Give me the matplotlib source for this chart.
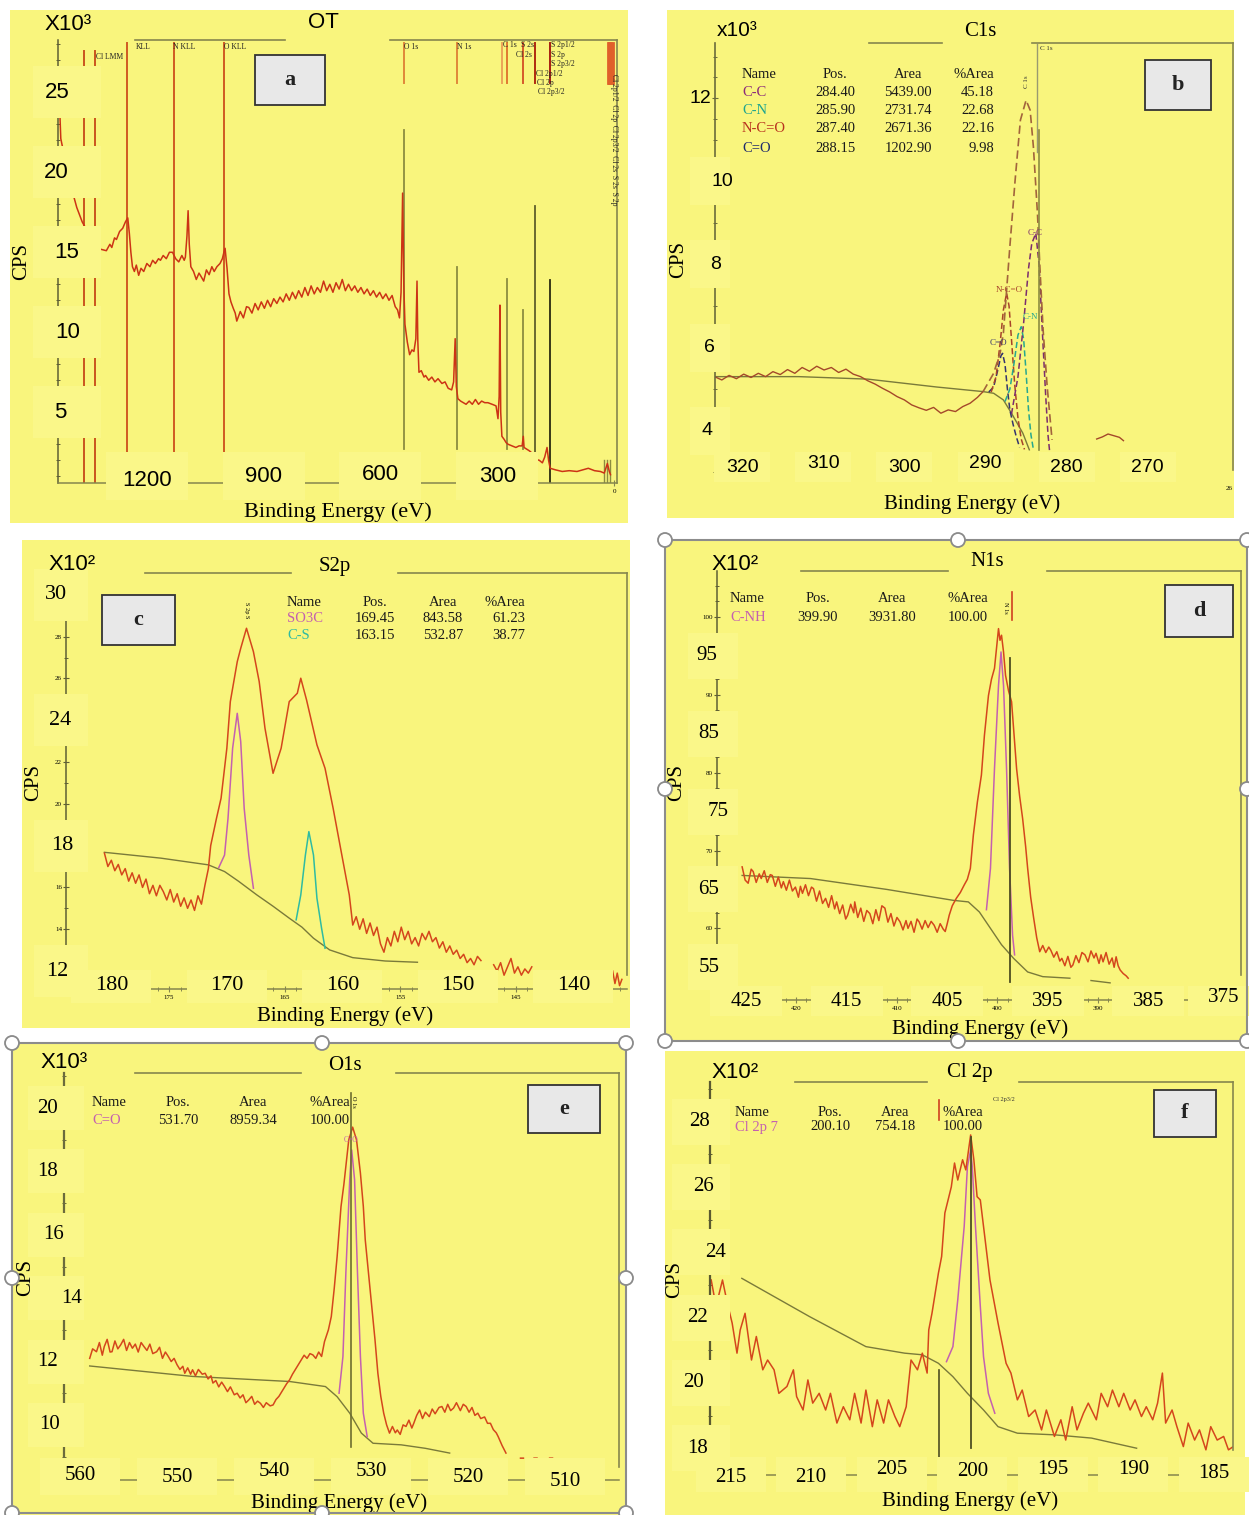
import numpy as np
import matplotlib
matplotlib.use('Agg')
import matplotlib.pyplot as plt
from matplotlib.patches import Rectangle, Ellipse
from matplotlib.lines import Line2D
from matplotlib.ticker import MultipleLocator

plt.rcParams['font.family'] = ['Liberation Serif', 'DejaVu Serif']
SERIF = ['Liberation Serif', 'DejaVu Serif']
SANS = ['Liberation Sans', 'DejaVu Sans']

# ======================= DATA =======================
# (a) survey, binding energy (eV) and counts (x10^3 CPS)
survey_be = [1425, 1423, 1421, 1410, 1400, 1393, 1380, 1366, 1350, 1335,
             1320, 1304, 1295, 1290, 1283, 1278, 1270, 1262, 1255, 1249,
             1245, 1241, 1237, 1232, 1227, 1221, 1215, 1208, 1200, 1192,
             1185, 1178, 1170, 1165, 1158, 1150, 1142, 1134, 1126, 1118,
             1110, 1104, 1101, 1097, 1094, 1091, 1087, 1080, 1073, 1066,
             1061, 1054, 1047, 1040, 1033, 1027, 1020, 1012, 1006, 1002,
             999, 994, 989, 984, 978, 973, 969, 960, 952, 944,
             938, 930, 922, 914, 906, 898, 890, 882, 874, 866,
             858, 850, 842, 834, 826, 818, 810, 802, 794, 786,
             778, 770, 762, 754, 746, 738, 730, 722, 714, 706,
             698, 690, 682, 674, 666, 658, 650, 642, 634, 626,
             618, 610, 602, 594, 586, 578, 570, 562, 556, 551,
             547, 543, 540, 537, 531, 525, 519, 514, 509, 507,
             506, 504, 501, 495, 488, 484, 476, 468, 460, 452,
             442, 434, 426, 417, 412, 408, 405, 401, 394, 387,
             380, 372, 364, 356, 348, 340, 332, 324, 313, 303,
             298, 295, 293, 291, 288, 282, 277, 272, 262, 252,
             244, 236, 233, 231, 218, 208, 200, 192, 184, 178,
             172, 168, 164, 150, 133, 115, 95, 80, 66, 50,
             35, 25, 17, 12, 9]
survey_kcps = [23.9, 23.4, 22.1, 20.8, 19.6, 18.96, 17.8, 16.9, 16.2, 15.6,
               15.2, 15.1, 15.5, 15.3, 15.9, 15.8, 16.3, 16.5, 16.9, 17.15,
               16.2, 15.0, 14.1, 13.8, 14.2, 13.56, 14.0, 13.8, 14.3, 14.1,
               14.5, 14.3, 14.6, 14.5, 14.8, 14.6, 15.0, 15.0, 14.6, 14.4,
               14.8, 14.5, 14.7, 16.0, 17.6, 15.5, 14.1, 13.8, 13.3, 13.7,
               13.5, 13.2, 13.9, 13.6, 14.1, 13.8, 14.1, 14.3, 14.6, 15.0,
               15.25, 14.0, 12.4, 11.9, 11.5, 11.2, 10.7, 11.3, 10.9, 11.6,
               11.55, 11.2, 11.8, 11.4, 11.9, 11.5, 12.0, 11.6, 12.1, 11.8,
               12.2, 11.9, 12.4, 12.0, 12.5, 12.1, 12.6, 12.2, 12.8, 12.3,
               12.9, 12.4, 12.8, 12.5, 13.2, 12.6, 13.0, 12.5, 13.1, 12.7,
               13.3, 12.6, 13.0, 12.6, 12.9, 12.5, 12.8, 12.4, 12.7, 12.3,
               12.6, 12.2, 12.5, 12.1, 12.4, 12.0, 12.3, 11.6, 11.4, 10.9,
               12.5, 18.7, 13.0, 10.5, 9.4, 8.6, 8.9, 8.8, 9.6, 12.0,
               13.2, 9.5, 7.5, 7.6, 7.2, 7.3, 7.0, 7.2, 6.9, 7.1,
               6.8, 6.9, 6.5, 6.4, 6.9, 9.6, 6.6, 5.85, 5.7, 5.6,
               5.5, 5.7, 5.5, 5.8, 5.5, 5.7, 5.6, 5.6, 5.5, 5.4,
               4.6, 6.0, 11.7, 5.0, 3.5, 3.3, 3.1, 3.0, 2.9, 2.8,
               2.9, 2.9, 3.5, 2.8, 2.6, 2.4, 2.05, 2.0, 1.84, 2.2,
               2.8, 2.0, 1.5, 1.4, 1.3, 1.35, 1.3, 1.4, 1.5, 1.35,
               1.3, 1.2, 1.8, 1.3, 1.1]
# survey element marker lines (eV, low, high in x10^3 CPS)
lmm_be = [1361, 1333]
auger_be = [1251, 1131, 1002.6]
top_mark_be = [540.4, 404, 288.5, 275.6, 233, 203, 164.4]
top_mark_col = ['#e0883a', '#e0883a', '#eba458', '#e07a30', '#d65a2a', '#b02a10', '#a82010']
right_mark_be = [15.4, 12.5, 9.6, 6.7, 3.8]
core_be = [540.4, 404, 275.6, 233, 203, 164.4]
core_lo = [2.71, 2.71, 2.71, 2.71, 0.77, 0.58]
core_hi = [22.64, 14.08, 13.33, 11.39, 17.89, 13.27]
core_col = ['#8c8c40', '#8c8c40', '#8c8c40', '#8c8c40', '#5e5e2a', '#2a2a10']
base_mark_be = [25, 18, 10]

# (b) C1s
c1s_raw_be = [323.4, 322.5, 321.6, 320.7, 319.8, 318.9, 318.0, 317.1, 316.2, 315.3,
              314.4, 313.5, 312.6, 311.7, 310.8, 309.9, 309.0, 308.1, 307.2, 306.3,
              305.4, 304.5, 303.6, 302.7, 301.8, 300.9, 300.0, 299.1, 298.2, 297.3,
              296.4, 295.5, 294.6, 293.7, 292.8, 291.9, 291.0, 290.3]
c1s_raw = [5.30, 5.22, 5.33, 5.25, 5.36, 5.28, 5.38, 5.30, 5.42, 5.35,
           5.47, 5.38, 5.52, 5.43, 5.55, 5.46, 5.52, 5.40, 5.48, 5.36,
           5.30, 5.20, 5.12, 5.02, 4.93, 4.82, 4.74, 4.62, 4.55, 4.49,
           4.56, 4.42, 4.50, 4.46, 4.58, 4.66, 4.80, 4.94]
c1s_bump_be = [276.3, 275.6, 274.9, 274.2, 273.5, 273.0]
c1s_bump = [3.80, 3.85, 3.92, 3.88, 3.84, 3.76]
c1s_bg_be = [323.4, 313.0, 304.5, 296.0, 290.3, 289.0, 287.8, 286.8, 285.4, 284.6]
c1s_bg = [5.30, 5.30, 5.24, 5.05, 4.94, 4.90, 4.74, 4.42, 3.94, 3.54]
c1s_env_be = [290.3, 289.0, 288.2, 287.8, 287.4, 287.0, 286.35, 285.7, 285.0, 284.5,
              284.1, 283.6, 283.3, 282.9, 282.4, 281.8]
c1s_env = [4.94, 5.38, 5.87, 6.34, 7.38, 8.43, 10.03, 11.47, 11.95, 11.71,
           10.83, 9.23, 7.94, 6.42, 5.06, 3.78]
cc_be = [286.8, 286.0, 285.3, 284.7, 284.3, 283.8, 283.4, 283.0, 282.6, 282.3, 282.1]
cc_cps = [4.4, 5.3, 6.6, 7.9, 8.5, 8.75, 8.0, 6.4, 4.9, 3.9, 3.5]
cn_be = [287.6, 287.0, 286.5, 286.0, 285.6, 285.3, 285.0, 284.7, 284.4, 284.1]
cn_cps = [4.7, 5.0, 5.6, 6.3, 6.5, 6.2, 5.4, 4.5, 3.9, 3.55]
nco_be = [289.3, 288.7, 288.2, 287.8, 287.4, 287.1, 286.8, 286.4, 286.0, 285.6, 285.2]
nco_cps = [4.93, 5.3, 6.1, 6.9, 7.31, 7.0, 6.2, 5.1, 4.3, 3.8, 3.55]
co_be = [289.6, 289.0, 288.5, 288.1, 287.9, 287.6, 287.3, 287.0, 286.6, 286.2, 285.8]
co_cps = [4.93, 5.05, 5.45, 5.8, 5.86, 5.6, 5.0, 4.5, 4.15, 3.85, 3.6]

# (c) S2p  (x10^2 CPS)
s2p_be = [180.6, 180.3, 180.0, 179.7, 179.4, 179.1, 178.8, 178.5, 178.2, 177.9,
          177.6, 177.3, 177.0, 176.7, 176.4, 176.1, 175.8, 175.5, 175.2, 174.9,
          174.6, 174.3, 174.0, 173.7, 173.4, 173.1, 172.8, 172.5, 172.2, 171.9,
          171.6, 171.4, 170.9, 170.5, 170.0, 169.7, 169.1, 168.8, 168.3, 167.7,
          167.2, 166.7, 166.0, 165.3, 164.6, 163.9, 163.6, 163.1, 162.2, 161.5,
          160.8, 160.1, 159.4, 159.1, 158.8, 158.5, 158.2, 157.9, 157.6, 157.3,
          157.0, 156.7, 156.4, 156.1, 155.8, 155.5, 155.2, 154.9, 154.6, 154.3,
          154.0, 153.7, 153.4, 153.1, 152.8, 152.5, 152.2, 151.9, 151.6, 151.3,
          151.0, 150.7, 150.4, 150.1, 149.8, 149.5, 149.2, 148.9, 148.6, 148.3,
          148.0, np.nan, 146.9, 146.6, 146.3, 146.0, 145.7, 145.4, 145.1, 144.8,
          144.5, 144.2, 143.9, 143.6, np.nan, 136.6, 136.4, 136.2, 136.0, 135.8]
s2p_raw = [17.64, 17.0, 17.3, 16.8, 17.1, 16.6, 16.9, 16.3, 16.7, 16.2,
           16.6, 16.0, 16.4, 15.7, 16.1, 15.6, 16.1, 15.8, 15.4, 15.9,
           15.3, 15.7, 15.1, 15.5, 15.0, 15.4, 14.9, 15.6, 15.2, 16.1,
           16.9, 18.0, 19.3, 20.27, 22.66, 24.89, 26.8, 27.44, 28.4, 27.28,
           25.85, 23.62, 21.46, 22.66, 24.89, 25.29, 26.01, 24.97, 22.82, 21.7,
           19.79, 17.71, 15.64, 14.2, 14.6, 14.0, 14.5, 13.8, 14.3, 13.7,
           14.1, 13.3, 12.9, 13.6, 13.2, 13.9, 13.4, 14.1, 13.5, 13.9,
           13.3, 13.6, 13.2, 13.8, 13.5, 13.9, 13.4, 13.6, 13.1, 13.4,
           12.9, 13.2, 12.8, 13.0, 12.6, 12.8, 12.4, 12.6, 12.3, 12.7,
           12.5, np.nan, 12.3, 12.0, 12.4, 11.8, 12.2, 12.6, 11.9, 12.2,
           11.8, 12.1, 11.9, 12.2, np.nan, 12.0, 11.4, 11.9, 11.3, 11.6]
s2p_bg_be = [180.6, 175.7, 171.6, 170.2, 169.0, 167.4, 166.0, 164.6, 163.5, 162.5,
             161.1, 159.1, 156.3, 153.5]
s2p_bg = [17.68, 17.4, 17.08, 16.76, 16.3, 15.64, 15.1, 14.53, 14.1, 13.57,
          13.01, 12.64, 12.48, 12.42]
so3c_be = [170.7, 170.2, 169.9, 169.5, 169.1, 168.8, 168.5, 168.1, 167.7]
so3c_cps = [16.95, 17.55, 19.3, 22.66, 24.33, 22.98, 19.79, 17.55, 15.96]
cs_be = [164.0, 163.6, 163.2, 162.9, 162.5, 162.2, 161.8, 161.5]
cs_cps = [14.45, 15.64, 17.55, 18.67, 17.55, 15.48, 14.05, 13.09]

# (d) N1s  (x10^2 CPS)
n1s_be = [425.4, 425.1, 424.8, 424.5, 424.3, 424.0, 423.7, 423.5, 423.2, 422.9,
          422.6, 422.4, 422.1, 421.8, 421.5, 421.3, 421.0, 420.7, 420.4, 420.1,
          419.8, 419.6, 419.4, 419.1, 418.8, 418.5, 418.3, 418.0, 417.7, 417.4,
          417.1, 416.8, 416.5, 416.2, 416.0, 415.7, 415.4, 415.1, 414.9, 414.6,
          414.3, 414.2, 413.9, 413.6, 413.3, 413.0, 412.7, 412.4, 412.1, 411.8,
          411.5, 411.2, 410.9, 410.6, 410.3, 410.0, 409.7, 409.4, 409.1, 408.9,
          408.6, 408.3, 408.0, 407.8, 407.5, 407.2, 406.9, 406.6, 406.3, 406.0,
          405.7, 405.4, 405.2, 405.0, 404.8, 404.5, 404.1, 403.7, 403.3, 403.0,
          402.7, 402.4, 402.0, 401.6, 401.3, 400.9, 400.6, 400.3, 400.1, 399.9,
          399.75, 399.6, 399.4, 399.2, 398.9, 398.6, 398.3, 398.1, 397.8, 397.5,
          397.2, 397.0, 396.7, 396.4, 396.1, 395.8, 395.5, 395.2, 394.9, 394.7,
          394.4, 394.1, 393.8, 393.6, 393.3, 393.0, 392.7, 392.5, 392.2, 391.9,
          391.6, 391.3, 391.0, 390.7, 390.4, 390.2, 389.9, 389.7, 389.5, 389.2,
          388.9, 388.6, 388.4, 388.2, 388.0, 387.8, 387.5, 387.2, 387.0]
n1s_raw = [67.9, 66.2, 65.8, 67.6, 67.3, 65.9, 67.0, 66.4, 67.4, 65.9,
           66.9, 66.8, 65.4, 66.6, 65.2, 66.0, 64.9, 66.2, 64.8, 65.3,
           64.0, 65.4, 64.5, 65.6, 64.2, 65.3, 65.1, 63.5, 64.8, 63.2,
           63.85, 62.7, 64.2, 62.5, 63.4, 61.9, 63.0, 61.2, 61.7, 63.1,
           62.0, 63.4, 61.4, 62.6, 60.9, 62.3, 61.9, 60.6, 62.4, 61.0,
           62.9, 62.6, 60.8, 61.9, 60.3, 61.4, 60.85, 59.8, 61.0, 60.0,
           60.9, 59.5, 61.2, 60.85, 59.9, 61.0, 60.1, 60.9, 60.4, 59.5,
           60.6, 59.9, 59.6, 60.6, 61.7, 62.9, 63.85, 64.6, 65.6, 66.3,
           67.7, 72.0, 76.25, 79.7, 84.8, 89.9, 92.0, 93.4, 96.0, 98.5,
           97.0, 97.65, 95.5, 92.5, 90.5, 89.1, 84.0, 80.5, 77.0, 74.1,
           70.5, 67.7, 64.0, 61.3, 58.8, 57.0, 57.8, 56.9, 57.6, 57.2,
           56.3, 57.0, 55.8, 56.15, 55.2, 56.4, 55.0, 55.3, 56.5, 55.6,
           56.9, 56.6, 55.7, 57.1, 56.2, 56.8, 55.5, 56.6, 55.7, 56.9,
           55.4, 56.2, 55.0, 56.35, 55.2, 54.65, 54.2, 53.9, 53.6]
n1s_bg_be = [425.4, 418.6, 411.0, 404.4, 402.9, 401.8, 400.7, 399.6, 398.4, 397.0,
             395.5, 392.8, np.nan, 390.7, 388.8]
n1s_bg = [66.8, 66.4, 65.0, 63.6, 63.4, 62.1, 60.0, 57.9, 56.15, 54.4,
          53.8, 53.6, np.nan, 53.3, 53.0]
cnh_be = [401.1, 400.7, 400.3, 399.9, 399.65, 399.4, 399.1, 398.8, 398.5, 398.3]
cnh_cps = [62.4, 67.7, 80.5, 91.2, 95.5, 91.2, 80.5, 67.7, 59.1, 56.6]

# (e) O1s  (x10^3 CPS)
o1s_be = [559.0, 558.7, 558.3, 558.0, 557.7, 557.5, 557.2, 556.9, 556.7, 556.4,
          556.1, 555.8, 555.5, 555.2, 554.9, 554.6, 554.3, 554.0, 553.7, 553.4,
          553.1, 552.8, 552.5, 552.1, 551.8, 551.5, 551.2, 550.9, 550.6, 550.3,
          550.0, 549.7, 549.4, 549.2, 548.9, 548.6, 548.4, 548.1, 547.8, 547.4,
          547.1, 546.8, 546.5, 546.3, 546.0, 545.7, 545.4, 545.1, 544.8, 544.5,
          544.1, 543.8, 543.5, 543.2, 542.9, 542.6, 542.3, 542.0, 541.7, 541.4,
          541.1, 540.8, 540.4, 540.1, 539.8, 539.5, 539.3, 539.0, 538.7, 538.4,
          538.1, 537.8, 537.5, 537.2, 536.9, 536.6, 536.3, 536.0, 535.7, 535.4,
          535.1, 534.8, 534.4, 534.1, 533.8, 533.5, 533.3, 533.1, 532.8, 532.6,
          532.3, 531.9, 531.5, 531.1, 530.8, 530.6, 530.3, 530.0, 529.6, 529.3,
          529.0, 528.7, 528.4, 528.1, 527.8, 527.5, 527.3, 527.0, 526.7, 526.4,
          526.1, 525.8, 525.6, 525.3, 525.0, 524.7, 524.4, 524.0, 523.7, 523.4,
          523.0, 522.7, 522.4, 522.1, 521.8, 521.5, 521.2, 520.8, 520.5, 520.2,
          519.9, 519.6, 519.3, 519.0, 518.7, 518.3, 518.0, 517.7, 517.4, 517.1,
          516.9, 516.5, 516.1, np.nan, 514.6, 514.3, np.nan, 513.2, 512.9, np.nan,
          511.6, 511.3]
o1s_raw = [12.1, 12.4, 12.31, 12.6, 12.2, 12.47, 12.7, 12.3, 12.31, 12.65,
           12.4, 12.53, 12.7, 12.35, 12.6, 12.42, 12.55, 12.3, 12.6, 12.47,
           12.35, 12.55, 12.25, 12.31, 12.45, 12.1, 12.3, 12.16, 12.0, 12.1,
           11.9, 11.75, 11.85, 11.63, 11.8, 11.6, 11.74, 11.55, 11.75, 11.6,
           11.63, 11.45, 11.55, 11.32, 11.4, 11.2, 11.35, 11.21, 11.05, 11.2,
           10.95, 11.0, 10.85, 10.95, 10.7, 10.79, 10.9, 10.65, 10.75, 10.68,
           10.55, 10.7, 10.6, 10.63, 10.8, 10.9, 11.0, 11.15, 11.3, 11.42,
           11.6, 11.75, 11.9, 12.05, 12.2, 12.1, 12.25, 12.21, 12.1, 12.3,
           12.16, 12.63, 13.0, 13.42, 14.3, 15.31, 16.1, 16.89, 17.6, 18.16,
           19.0, 19.4, 19.0, 17.95, 16.9, 15.84, 14.9, 13.95, 12.7, 11.63,
           10.9, 10.37, 10.0, 9.74, 9.95, 9.75, 9.84, 9.7, 10.0, 9.95,
           10.15, 9.9, 10.05, 10.3, 10.47, 10.2, 10.4, 10.26, 10.5, 10.35,
           10.55, 10.58, 10.4, 10.65, 10.45, 10.53, 10.7, 10.45, 10.65, 10.58,
           10.4, 10.55, 10.3, 10.37, 10.2, 10.25, 10.05, 10.05, 9.85, 9.75,
           9.63, 9.35, 9.11, np.nan, 8.95, 8.95, np.nan, 8.95, 8.95, np.nan,
           8.95, 8.95]
o1s_bg_be = [559.0, 548.4, 538.4, 534.7, 533.5, 532.2, 531.0, 529.8, 526.9, 524.4, 521.9]
o1s_bg = [11.86, 11.53, 11.37, 11.21, 10.89, 10.37, 9.74, 9.42, 9.37, 9.26, 9.11]
o1s_co_be = [533.3, 532.9, 532.6, 532.2, 532.0, 531.7, 531.4, 531.1, 530.8, 530.4]
o1s_co = [11.0, 12.16, 14.79, 17.74, 18.68, 17.74, 14.79, 12.16, 10.37, 9.63]

# (f) Cl 2p  (x10^2 CPS)
cl_be = [216.2, 215.9, 215.7, 215.5, 215.2, 214.9, 214.6, 214.4, 214.1, 213.7,
         213.4, 213.0, 212.7, 212.3, 212.0, 211.5, 211.1, 210.9, 210.5, 210.2,
         209.9, 209.5, 209.1, 208.8, 208.4, 208.0, 207.6, 207.3, 206.9, 206.6,
         206.2, 205.9, 205.5, 205.2, 204.8, 204.5, 204.1, 203.8, 203.4, 203.1,
         202.8, 202.7, 202.5, 202.1, 201.9, 201.7, 201.3, 201.1, 200.9, 200.6,
         200.4, 200.1, 199.9, 199.7, 199.5, 199.2, 198.9, 198.4, 197.9, 197.6,
         197.2, 196.9, 196.5, 196.1, 195.7, 195.4, 194.9, 194.5, 194.2, 193.8,
         193.5, 193.1, 192.8, 192.3, 192.0, 191.6, 191.3, 190.9, 190.6, 190.2,
         189.9, 189.5, 189.2, 188.8, 188.5, 188.2, 188.0, 187.6, 187.3, 186.9,
         186.6, 186.2, 185.9, 185.5, 185.2, 184.8, 184.4, 184.1, 183.8]
cl_raw = [23.15, 22.34, 22.75, 23.15, 22.44, 21.83, 20.91, 21.62, 22.13, 20.7,
          21.42, 20.4, 20.7, 20.4, 19.68, 19.89, 20.4, 19.58, 19.17, 20.09,
          19.38, 19.68, 19.17, 19.68, 18.77, 19.27, 18.87, 19.68, 18.77, 19.78,
          18.66, 19.48, 18.77, 19.48, 18.97, 18.66, 19.27, 20.7, 20.4, 20.91,
          20.3, 21.62, 22.13, 23.36, 23.87, 25.2, 26.0, 26.73, 26.21, 26.83,
          26.52, 27.59, 26.83, 25.7, 25.6, 24.38, 23.15, 21.83, 20.6, 20.3,
          19.48, 19.78, 18.97, 19.17, 18.56, 19.17, 18.36, 18.87, 18.25, 19.27,
          18.56, 19.07, 19.38, 18.87, 19.68, 19.27, 19.78, 19.27, 19.68, 19.17,
          19.48, 18.97, 19.27, 18.87, 19.38, 20.3, 18.77, 19.17, 18.66, 18.05,
          18.77, 18.25, 18.56, 17.95, 18.66, 18.25, 18.36, 17.95, 18.05]
cl_bg_be = [214.3, 210.1, 206.6, 204.2, 203.1, 202.1, 201.2, 200.3, 199.3, 198.4,
            197.2, 194.9, 192.6, 189.8]
cl_bg = [23.2, 22.03, 21.11, 20.91, 20.86, 20.6, 20.19, 19.68, 19.17, 18.66,
         18.46, 18.41, 18.31, 18.0]
cl_comp_be = [201.6, 201.2, 200.9, 200.5, 200.3, 200.1, 200.0, 199.8, 199.5, 199.3, 199.0, 198.6]
cl_comp = [20.65, 21.11, 22.54, 24.79, 26.62, 27.13, 26.62, 24.79, 22.34, 20.8, 19.68, 19.07]

# ======================= STYLE / LAYOUT =======================
W, H = 1249, 1515
fig = plt.figure(figsize=(W / 100, H / 100), dpi=100)
fig.patch.set_facecolor('white')

BG = '#f9f57d'
LBL = '#faf789'
FRAME = '#86864e'
RAW = '#d4461c'
BGL = '#7a7a3a'
MAG = '#c460b0'
TEAL = '#2fbba2'


def frect(x0, y0, x1, y1, z, **kw):
    r = Rectangle((x0 / W, 1 - y1 / H), (x1 - x0) / W, (y1 - y0) / H,
                  transform=fig.transFigure, zorder=z, **kw)
    fig.add_artist(r)
    return r


def fline(xs, ys, color=FRAME, lw=1.2, z=1, **kw):
    fig.add_artist(Line2D([x / W for x in xs], [1 - y / H for y in ys],
                          transform=fig.transFigure, color=color, lw=lw, zorder=z, **kw))


def ftext(x, y, s, z=4, **kw):
    fig.text(x / W, 1 - y / H, s, zorder=z, **kw)


class Panel:
    def __init__(self, box, xlim, ylim):
        self.box = box
        x0, y0, x1, y1 = box
        ax = fig.add_axes([x0 / W, 1 - y1 / H, (x1 - x0) / W, (y1 - y0) / H])
        ax.set_xlim(*xlim)
        ax.set_ylim(*ylim)
        ax.patch.set_visible(False)
        for s in ax.spines.values():
            s.set_visible(False)
        ax.tick_params(which='both', left=False, bottom=False, labelleft=False, labelbottom=False)
        self.ax = ax

    def pix(self, x, y):
        d = self.ax.transData.transform((x, y))
        return d[0], H - d[1]

    def ylabels(self, vals, xs, rx, h, fam, size, cover=None):
        for i, (v, cx) in enumerate(zip(vals, xs)):
            _, cy = self.pix(self.ax.get_xlim()[0], v)
            if cover is None or cover[i]:
                frect(rx[0], cy - h / 2, rx[1], cy + h / 2, 2, fc=LBL, ec='none')
            ftext(cx, cy, str(v), ha='center', va='center', family=fam, fontsize=size)

    def xlabels(self, vals, ys, w, ry, fam, size, xfix=None):
        for i, (v, cy) in enumerate(zip(vals, ys)):
            cx, _ = self.pix(v, self.ax.get_ylim()[0])
            if xfix is not None and xfix[i] is not None:
                cx = xfix[i]
            frect(cx - w / 2, ry[0], cx + w / 2, ry[1], 2, fc=LBL, ec='none')
            ftext(cx, cy, str(v), ha='center', va='center', family=fam, fontsize=size)

    def left_spine(self, color='#5f5f35', lw=1.1, major=None, minor=None, labels=None, size=5):
        ax = self.ax
        ax.spines['left'].set_visible(True)
        ax.spines['left'].set_color(color)
        ax.spines['left'].set_linewidth(lw)
        if major is not None:
            ax.set_yticks(major)
            if labels:
                ax.set_yticklabels([str(m) for m in major])
        if minor is not None:
            ax.yaxis.set_minor_locator(MultipleLocator(minor))
        ax.tick_params(axis='y', which='major', left=True, length=4, width=0.8, color=color,
                       direction='inout', labelleft=bool(labels), labelsize=size, pad=1)
        ax.tick_params(axis='y', which='minor', left=True, length=2.5, width=0.7, color=color,
                       direction='inout')

    def bottom_spine(self, color=FRAME, lw=1.1, major=None, minor=None, labels=None, size=5):
        ax = self.ax
        ax.spines['bottom'].set_visible(True)
        ax.spines['bottom'].set_color(color)
        ax.spines['bottom'].set_linewidth(lw)
        if major is not None:
            ax.set_xticks(major)
            if labels:
                ax.set_xticklabels([str(m) for m in major])
        if minor is not None:
            ax.xaxis.set_minor_locator(MultipleLocator(minor))
        ax.tick_params(axis='x', which='major', bottom=True, length=5, width=0.8, color=color,
                       direction='inout', labelbottom=bool(labels), labelsize=size, pad=2)
        ax.tick_params(axis='x', which='minor', bottom=True, length=2.5, width=0.7, color=color,
                       direction='inout')


def letter_box(x0, y0, x1, y1, s):
    frect(x0, y0, x1, y1, 3, fc='#e8e8e8', ec='#333333', lw=1.3)
    ftext((x0 + x1) / 2, (y0 + y1) / 2, s, ha='center', va='center', family=SERIF,
          fontsize=16, fontweight='bold', color='#222222')


def table(cols, hy, rys, names, colors, pos, area, pct):
    xn, xp, xa, xr = cols
    kw = dict(family=SERIF, fontsize=10.5, va='center', color='#1a1a1a')
    ftext(xn, hy, 'Name', ha='left', **kw)
    ftext(xp, hy, 'Pos.', ha='center', **kw)
    ftext(xa, hy, 'Area', ha='center', **kw)
    ftext(xr, hy, '%Area', ha='right', **kw)
    for ry, n, c, p, a, q in zip(rys, names, colors, pos, area, pct):
        ftext(xn, ry, n, ha='left', family=SERIF, fontsize=10.5, va='center', color=c)
        ftext(xp, ry, p, ha='center', **kw)
        ftext(xa, ry, a, ha='center', **kw)
        ftext(xr, ry, q, ha='right', **kw)


def handles(pts, r=7):
    for (x, y) in pts:
        fig.add_artist(Ellipse((x / W, 1 - y / H), 2 * r / W, 2 * r / H, transform=fig.transFigure,
                               fc='white', ec='#8a8a8a', lw=1.3, zorder=7))


# ---------- yellow backgrounds ----------
for b in [(10, 10, 628, 523), (667, 10, 1234, 518), (22, 540, 630, 1028),
          (665, 540, 1247, 1041), (12, 1043, 626, 1515), (665, 1051, 1245, 1515)]:
    frect(*b, -1, fc=BG, ec='none')

# ======================= PANEL A =======================
pa = Panel((58, 39.5, 617, 483), (1428.2, -7.7), (0.58, 28.3))
ax = pa.ax
for e in lmm_be:
    ax.plot([e, e], [0.58, 27.6], color='#c9541f', lw=1.4)
for e in auger_be:
    ax.plot([e, e], [2.46, 28.08], color='#cf5a22', lw=1.4)
for e, c in zip(top_mark_be, top_mark_col):
    ax.plot([e, e], [25.58, 28.08], color=c, lw=1.4)
for e in right_mark_be:
    ax.plot([e, e], [25.58, 28.08], color='#e0602a', lw=2.0)
for e, lo, hi, c in zip(core_be, core_lo, core_hi, core_col):
    ax.plot([e, e], [lo, hi], color=c, lw=1.3)
for e in base_mark_be:
    ax.plot([e, e], [0.58, 2.02], color='#8c8c40', lw=1.0)
ax.plot(survey_be, survey_kcps, color='#cc3315', lw=1.1)
pa.left_spine(major=[5, 10, 15, 20, 25], minor=1)
pa.bottom_spine(major=[0], minor=None, labels=True, size=5)
fline([135, 285], [39.5, 39.5])
fline([390, 617], [39.5, 39.5])
fline([617, 617], [39.5, 483])
pa.ylabels([25, 20, 15, 10, 5], [57, 56, 67, 68, 60], (33, 101), 52, SANS, 16)
pa.xlabels([1200, 900, 600, 300], [481, 476, 475, 476], 82, (452, 500), SANS, 16)
ftext(68, 25, 'X10³', ha='center', va='center', family=SANS, fontsize=16)
ftext(323, 22, 'OT', ha='center', va='center', family=SANS, fontsize=16)
ftext(22, 262, 'CPS', ha='center', va='center', family=SERIF, fontsize=15, rotation=90)
ftext(338, 512, 'Binding Energy (eV)', ha='center', va='center', family=SERIF, fontsize=16)
letter_box(255, 55, 325, 105, 'a')
for s, x, y in [('Cl LMM', 96, 57), ('KLL', 136, 47), ('N KLL', 173, 47), ('O KLL', 224, 47),
                ('O 1s', 404, 47), ('N 1s', 457, 47), ('C 1s', 503, 45), ('S 2s', 521, 45),
                ('S 2p1/2', 551, 45), ('Cl 2s', 516, 55), ('S 2p', 551, 55), ('S 2p3/2', 551, 64),
                ('Cl 2p1/2', 536, 74), ('Cl 2p', 537, 83), ('Cl 2p3/2', 538, 92)]:
    ftext(x, y, s, ha='left', va='center', family=SERIF, fontsize=5.5, color='#222222')
ftext(614, 140, 'Cl 2p1/2  Cl 2p  Cl 2p3/2  Cl 2s  S 2s  S 2p', ha='center', va='center',
      family=SERIF, fontsize=5.5, rotation=270, color='#222222')

# ======================= PANEL B =======================
pb = Panel((714.5, 43.2, 1233, 476), (323.4, 259.5), (2.91, 13.32))
ax = pb.ax
ax.plot(c1s_bg_be, c1s_bg, color=BGL, lw=1.0)
ax.plot(c1s_raw_be, c1s_raw, color='#a4482a', lw=1.0)
ax.plot(c1s_bump_be, c1s_bump, color='#a4482a', lw=1.0)
ax.plot(co_be, co_cps, color='#34346e', lw=1.1, dashes=(4, 2))
ax.plot(nco_be, nco_cps, color='#a8442a', lw=1.1, dashes=(4, 2))
ax.plot(cn_be, cn_cps, color='#27a78f', lw=1.1, dashes=(4, 2))
ax.plot(cc_be, cc_cps, color='#7b2d6e', lw=1.1, dashes=(4, 2))
ax.plot(c1s_env_be, c1s_env, color='#a2643c', lw=1.2, dashes=(5, 2.5))
ax.plot([283.6, 283.6], [13.3, 10.7], color='#9a9a70', lw=1.0)
ax.plot([283.4, 283.4], [11.23, 3.54], color='#8c8c40', lw=1.2)
pb.left_spine(color='#6b6b3c', lw=1.2, major=[4, 6, 8, 10, 12], minor=0.5)
fline([868.6, 942], [43.2, 43.2])
fline([1032, 1233], [43.2, 43.2])
fline([1233, 1233], [43.2, 470])
pb.ylabels([12, 10, 8, 6, 4], [700, 722, 716, 709, 707], (690, 730), 48, SANS, 14,
           cover=[False, True, True, True, True])
pb.xlabels([320, 310, 300, 290, 280, 270], [468, 464, 468, 464, 468, 468], 56, (452, 482), SANS, 14)
ftext(737, 30, 'x10³', ha='center', va='center', family=SANS, fontsize=15)
ftext(980, 31, 'C1s', ha='center', va='center', family=SERIF, fontsize=15)
ftext(679, 260, 'CPS', ha='center', va='center', family=SERIF, fontsize=15, rotation=90)
ftext(972, 504, 'Binding Energy (eV)', ha='center', va='center', family=SERIF, fontsize=15)
letter_box(1145, 60, 1211, 110, 'b')
table((742, 835, 908, 994), 75, [92.5, 110.5, 129, 148],
      ['C-C', 'C-N', 'N-C=O', 'C=O'], ['#8b2a7a', '#1fa58f', '#b8321e', '#1f2a6b'],
      ['284.40', '285.90', '287.40', '288.15'], ['5439.00', '2731.74', '2671.36', '1202.90'],
      ['45.18', '22.68', '22.16', '9.98'])
for s, x, y, c in [('C-C', 1035, 233, '#7b2d6e'), ('N-C=O', 1009, 290, '#a8442a'),
                   ('C-N', 1030, 317, '#27a78f'), ('C=O', 998, 343, '#34346e')]:
    ftext(x, y, s, ha='center', va='center', family=SERIF, fontsize=6.5, color=c, z=5)
ftext(1040, 49, 'C 1s', ha='left', va='center', family=SERIF, fontsize=5, color='#333333')
ftext(1027, 82, 'C 1s', ha='center', va='center', family=SERIF, fontsize=5, rotation=90, color='#333333')
ftext(1229, 488, '26', ha='center', va='center', family=SERIF, fontsize=5)

# ======================= PANEL C =======================
pc = Panel((66.3, 573.3, 626.5, 989), (183.9, 135.4), (11.14, 31.03))
ax = pc.ax
ax.plot(s2p_bg_be, s2p_bg, color=BGL, lw=1.0)
ax.plot(so3c_be, so3c_cps, color=MAG, lw=1.1)
ax.plot(cs_be, cs_cps, color=TEAL, lw=1.1)
ax.plot(s2p_be, s2p_raw, color=RAW, lw=1.1)
pc.left_spine(major=[14, 16, 20, 22, 26, 28], minor=1, labels=True)
pc.bottom_spine(major=[175, 165, 155, 145], minor=1, labels=True, size=5)
fline([144.6, 291], [573.3, 573.3])
fline([397.6, 626.5], [573.3, 573.3])
fline([626.5, 626.5], [573.3, 975])
pc.ylabels([30, 24, 18, 12], [56, 60, 62, 57], (34, 88), 52, SERIF, 16)
pc.xlabels([180, 170, 160, 150, 140], [986] * 5, 80, (970, 1003), SERIF, 16)
ftext(72, 565, 'X10²', ha='center', va='center', family=SANS, fontsize=16)
ftext(335, 567, 'S2p', ha='center', va='center', family=SERIF, fontsize=15)
ftext(34, 782, 'CPS', ha='center', va='center', family=SERIF, fontsize=15, rotation=90)
ftext(345, 1016, 'Binding Energy (eV)', ha='center', va='center', family=SERIF, fontsize=15)
letter_box(102, 595, 175, 645, 'c')
table((287, 375, 443, 525), 602, [618.5, 635], ['SO3C', 'C-S'], [MAG, TEAL],
      ['169.45', '163.15'], ['843.58', '532.87'], ['61.23', '38.77'])
ftext(247, 610, 'S 2p S', ha='center', va='center', family=SERIF, fontsize=4.5, rotation=270)

# ======================= PANEL D =======================
pd_ = Panel((717, 571, 1240.8, 1000), (427.9, 375.8), (50.8, 105.9))
ax = pd_.ax
ax.plot(n1s_bg_be, n1s_bg, color=BGL, lw=1.0)
ax.plot(cnh_be, cnh_cps, color=MAG, lw=1.1)
ax.plot(n1s_be, n1s_raw, color=RAW, lw=1.1)
ax.plot([398.8, 398.8], [94.7, 53.1], color='#4e4e22', lw=1.3)
pd_.left_spine(major=[100, 90, 80, 70, 60], minor=2, labels=True)
pd_.bottom_spine(major=[420, 410, 400, 390], minor=1, labels=True, size=5)
fline([801, 947.6], [571, 571])
fline([1047, 1240.8], [571, 571])
fline([1240.8, 1240.8], [571, 975])
fline([1011.5, 1011.5], [592, 620], color='#d04020', lw=1.2, z=5)
pd_.ylabels([95, 85, 75, 65, 55], [707, 709, 718, 709, 709], (688, 738), 46, SERIF, 15)
pd_.xlabels([425, 415, 405, 395, 385, 375], [1002, 1002, 1002, 1002, 1002, 997], 72, (986, 1016), SERIF, 15,
            xfix=[None, None, None, None, None, 1224])
ftext(735, 565, 'X10²', ha='center', va='center', family=SANS, fontsize=16)
ftext(987, 561, 'N1s', ha='center', va='center', family=SERIF, fontsize=15)
ftext(677, 782, 'CPS', ha='center', va='center', family=SERIF, fontsize=15, rotation=90)
ftext(980, 1029, 'Binding Energy (eV)', ha='center', va='center', family=SERIF, fontsize=15)
letter_box(1165, 585, 1233, 637, 'd')
table((730, 818, 892, 988), 598, [617], ['C-NH'], [MAG], ['399.90'], ['3931.80'], ['100.00'])
ftext(1005, 608, 'N 1s', ha='center', va='center', family=SERIF, fontsize=4.5, rotation=270)
frect(665, 540, 1247, 1041, 6, fc='none', ec='#8c8c8c', lw=1.5)

# ======================= PANEL E =======================
pe = Panel((63.5, 1073.3, 618.5, 1480), (561.7, 504.5), (8.26, 21.1))
ax = pe.ax
ax.plot(o1s_bg_be, o1s_bg, color=BGL, lw=1.0)
ax.plot(o1s_co_be, o1s_co, color=MAG, lw=1.1)
ax.plot(o1s_be, o1s_raw, color=RAW, lw=1.1)
ax.plot([532.1, 532.1], [20.47, 9.31], color='#6e6e30', lw=1.2)
pe.left_spine(color='#6b6b3c', lw=1.6, major=[10, 12, 14, 16, 18, 20], minor=0.5)
pe.bottom_spine(color=FRAME, lw=1.1)
fline([134.5, 301], [1073.3, 1073.3])
fline([395.6, 618.5], [1073.3, 1073.3])
fline([618.5, 618.5], [1073.3, 1467])
pe.ylabels([20, 18, 16, 14, 12, 10], [48, 48, 54, 72, 48, 50], (28, 84), 44, SERIF, 15)
pe.xlabels([560, 550, 540, 530, 520, 510], [1475, 1477, 1472, 1472, 1477, 1482], 80, (1458, 1495), SERIF, 15)
ftext(64, 1062, 'X10³', ha='center', va='center', family=SANS, fontsize=16)
ftext(345, 1065, 'O1s', ha='center', va='center', family=SERIF, fontsize=15)
ftext(26, 1277, 'CPS', ha='center', va='center', family=SERIF, fontsize=15, rotation=90)
ftext(339, 1503, 'Binding Energy (eV)', ha='center', va='center', family=SERIF, fontsize=15)
letter_box(528, 1085, 600, 1133, 'e')
table((92, 178, 253, 350), 1103, [1120], ['C=O'], [MAG], ['531.70'], ['8959.34'], ['100.00'])
ftext(351, 1140, 'C=O', ha='center', va='center', family=SERIF, fontsize=5.5, color=MAG, z=5)
ftext(354, 1102, 'O 1s', ha='center', va='center', family=SERIF, fontsize=4.5, rotation=270)
frect(12, 1043, 626, 1513, 6, fc='none', ec='#8c8c8c', lw=1.5)

# ======================= PANEL F =======================
pf = Panel((709.6, 1081.7, 1233.3, 1475), (216.3, 183.8), (17.18, 29.22))
ax = pf.ax
ax.plot(cl_bg_be, cl_bg, color=BGL, lw=1.0)
ax.plot(cl_comp_be, cl_comp, color=MAG, lw=1.1)
ax.plot(cl_be, cl_raw, color=RAW, lw=1.1)
ax.plot([200.08, 200.08], [27.54, 18.0], color='#4e4e22', lw=1.3)
ax.plot([202.09, 202.09], [20.4, 17.18], color='#4e4e22', lw=1.2)
ax.plot([202.09, 202.09], [28.66, 28.05], color='#d04020', lw=1.2)
pf.left_spine(color='#5a5a30', lw=1.6, major=[18, 20, 22, 24, 26, 28], minor=0.5)
pf.bottom_spine(color=FRAME, lw=1.1)
fline([795.3, 927], [1081.7, 1081.7])
fline([1019, 1233.3], [1081.7, 1081.7])
fline([1233.3, 1233.3], [1081.7, 1450])
pf.ylabels([28, 26, 24, 22, 20, 18], [700, 703, 716, 698, 694, 698], (672, 730), 46, SERIF, 15)
pf.xlabels([215, 210, 205, 200, 195, 190, 185], [1478, 1477, 1470, 1472, 1470, 1470, 1473], 70,
           (1457, 1492), SERIF, 15)
ftext(735, 1073, 'X10²', ha='center', va='center', family=SANS, fontsize=16)
ftext(970, 1073, 'Cl 2p', ha='center', va='center', family=SERIF, fontsize=15)
ftext(675, 1280, 'CPS', ha='center', va='center', family=SERIF, fontsize=15, rotation=90)
ftext(970, 1501, 'Binding Energy (eV)', ha='center', va='center', family=SERIF, fontsize=15)
letter_box(1154, 1090, 1216, 1137, 'f')
table((735, 830, 895, 983), 1112, [1127], ['Cl 2p 7'], [MAG], ['200.10'], ['754.18'], ['100.00'])
ftext(1004, 1099, 'Cl 2p3/2', ha='center', va='center', family=SERIF, fontsize=4.5, color='#333333', z=5)

# ---------- selection handles ----------
handles([(665, 540), (958, 540), (1247, 540), (665, 789), (1247, 789),
         (665, 1041), (958, 1041), (1247, 1041)])
handles([(12, 1043), (322, 1043), (626, 1043), (12, 1278), (626, 1278),
         (12, 1513), (322, 1513), (626, 1513)])

fig.savefig('out.png', dpi=100, facecolor='white')
